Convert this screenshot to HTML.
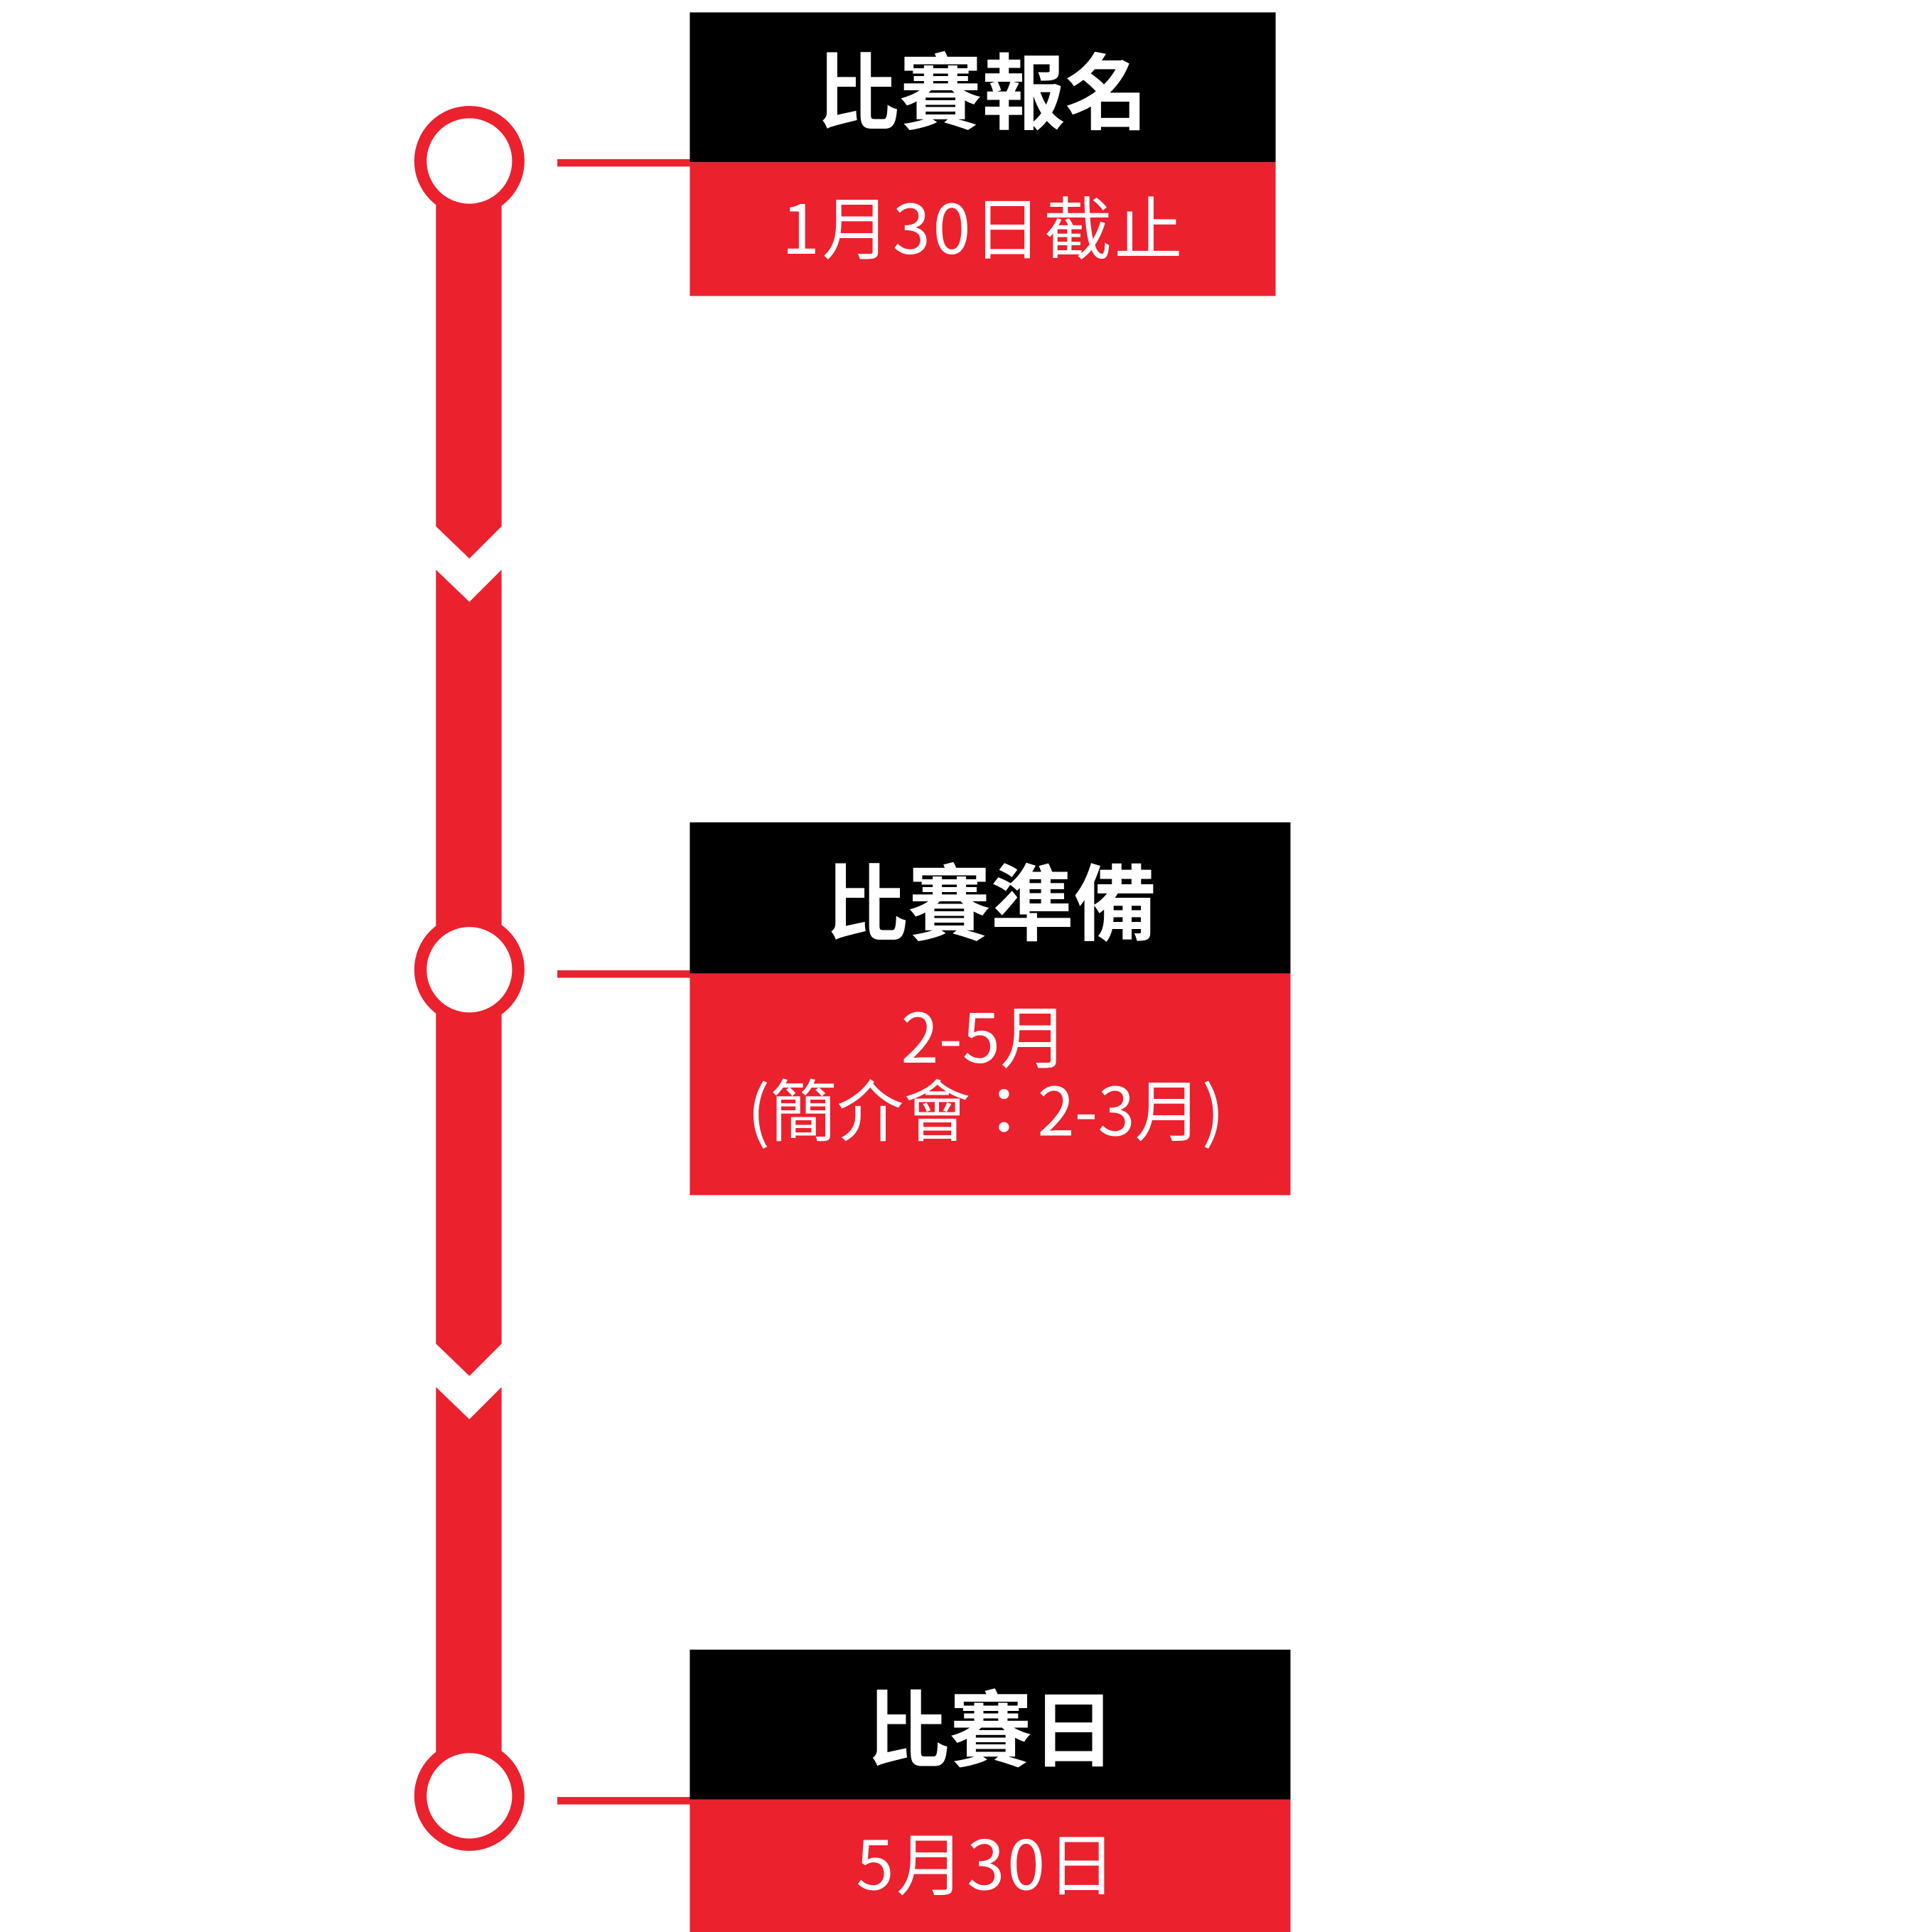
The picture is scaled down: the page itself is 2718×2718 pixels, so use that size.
<!DOCTYPE html>
<html><head><meta charset="utf-8"><style>
html,body{margin:0;padding:0;background:#fff;}
svg{display:block;}
text{font-family:"Noto Sans CJK TC",sans-serif;fill:#fff;}
</style></head><body>
<svg width="2718" height="2718" viewBox="0 0 1560 1560" xmlns="http://www.w3.org/2000/svg">
<g fill="#ec212e">
<polygon points="352,130 405,130 405,425 379,451 352,425"/>
<polygon points="352,460 379,486 405,460 405,1085 379,1111 352,1085"/>
<polygon points="352,1120 379,1146 405,1120 405,1450 352,1450"/>
<rect x="450" y="128.5" width="107" height="6"/>
<rect x="450" y="783.5" width="107" height="6"/>
<rect x="450" y="1451" width="107" height="6"/>
</g>
<g fill="#fff" stroke="#ec212e" stroke-width="10">
<circle cx="379" cy="130" r="39.5"/>
<circle cx="379" cy="783" r="39.5"/>
<circle cx="379" cy="1450" r="39.5"/>
</g>
<rect x="557" y="10" width="473" height="121" fill="#000"/>
<rect x="557" y="131" width="473" height="108" fill="#ec212e"/>
<rect x="557" y="664" width="485" height="122" fill="#000"/>
<rect x="557" y="786" width="485" height="179" fill="#ec212e"/>
<rect x="557" y="1332" width="485" height="121" fill="#000"/>
<rect x="557" y="1453" width="485" height="107" fill="#ec212e"/>
<g text-anchor="middle">
<text x="793" y="99" font-size="67" font-weight="bold">比賽報名</text>
<text x="794" y="205" font-size="55" letter-spacing="2">1月30日截止</text>
<text x="800" y="754" font-size="67" font-weight="bold">比賽準備</text>
<text x="795" y="858" font-size="55">2-5月</text>
<text x="796" y="917" font-size="54">(簡介會：2-3月)</text>
<text x="800" y="1421" font-size="67" font-weight="bold">比賽日</text>
<text x="797" y="1526" font-size="55" letter-spacing="2">5月30日</text>
</g>
</svg>
</body></html>
